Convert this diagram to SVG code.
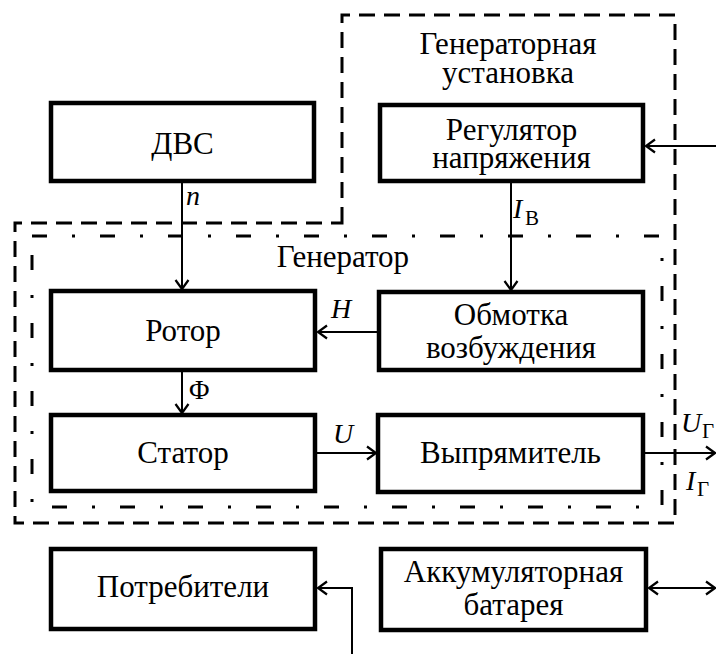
<svg xmlns="http://www.w3.org/2000/svg" width="716" height="654" viewBox="0 0 716 654">
<style>
.box{fill:#fff;stroke:#000;stroke-width:4.5}
text{font-family:'Liberation Serif','Times New Roman',serif;fill:#000}
.t{font-size:31px;text-anchor:middle}
.lbl{font-size:28px}
.it{font-style:italic}
.sub{font-size:21px}
.c{fill:none;stroke:#000;stroke-width:2}
.dash{fill:none;stroke:#000;stroke-width:3;stroke-dasharray:16 9}
.dd{fill:none;stroke:#000;stroke-width:3;stroke-dasharray:15 25 3 25}
</style>
<defs>
<marker id="ah" markerUnits="userSpaceOnUse" markerWidth="14" markerHeight="16" refX="11" refY="8" orient="auto-start-reverse">
<path d="M2,1.5 L11,8 L2,14.5" fill="none" stroke="#000" stroke-width="2.2"/>
</marker>
</defs>
<rect width="716" height="654" fill="#fff"/>
<g id="boundary-installation">
<path class="dash" d="M342,223 L342,15 L675,15 L675,523 L15,523 L15,223 Z"/>
<text class="t" x="508" y="54">Генераторная</text>
<text class="t" x="508" y="83">установка</text>
</g>
<g id="boundary-generator">
<rect class="dd" x="32" y="236" width="630" height="271"/>
<text class="t" x="343" y="267">Генератор</text>
</g>
<g id="connectors">
<line class="c" x1="182" y1="183" x2="182" y2="289" marker-end="url(#ah)"/>
<line class="c" x1="511" y1="183" x2="511" y2="290" marker-end="url(#ah)"/>
<line class="c" x1="716" y1="146" x2="646" y2="146" marker-end="url(#ah)"/>
<line class="c" x1="377" y1="332" x2="318" y2="332" marker-end="url(#ah)"/>
<line class="c" x1="182" y1="372" x2="182" y2="413" marker-end="url(#ah)"/>
<line class="c" x1="317" y1="453" x2="376" y2="453" marker-end="url(#ah)"/>
<line class="c" x1="645" y1="453" x2="715" y2="453" marker-end="url(#ah)"/>
<polyline class="c" points="352,654 352,588 318,588" marker-end="url(#ah)"/>
<line class="c" x1="649" y1="588" x2="715" y2="588" marker-start="url(#ah)" marker-end="url(#ah)"/>
<text class="lbl it" x="186" y="205">n</text>
<text class="lbl it" x="513" y="218">I</text><text class="lbl sub" x="525" y="225">В</text>
<text class="lbl it" x="331" y="318">H</text>
<text class="lbl" x="189" y="399">Φ</text>
<text class="lbl it" x="333" y="443">U</text>
<text class="lbl it" x="681" y="432">U</text><text class="lbl sub" x="702" y="438">Г</text>
<text class="lbl it" x="686" y="490">I</text><text class="lbl sub" x="697" y="496">Г</text>
</g>
<g id="dvs"><rect class="box" x="51" y="103" width="263" height="78"/><text class="t" x="182.5" y="154">ДВС</text></g>
<g id="regulator"><rect class="box" x="380" y="105" width="263" height="76"/><text class="t" x="511.5" y="140">Регулятор</text><text class="t" x="511.5" y="168">напряжения</text></g>
<g id="rotor"><rect class="box" x="51" y="291" width="264" height="79"/><text class="t" x="183" y="341">Ротор</text></g>
<g id="winding"><rect class="box" x="379" y="292" width="264" height="78"/><text class="t" x="511" y="325">Обмотка</text><text class="t" x="511" y="358">возбуждения</text></g>
<g id="stator"><rect class="box" x="51" y="415" width="264" height="76"/><text class="t" x="183" y="463">Статор</text></g>
<g id="rectifier"><rect class="box" x="378" y="415" width="265" height="77"/><text class="t" x="510.5" y="463">Выпрямитель</text></g>
<g id="consumers"><rect class="box" x="51" y="549" width="264" height="80"/><text class="t" x="183" y="597">Потребители</text></g>
<g id="battery"><rect class="box" x="381" y="549" width="265" height="81"/><text class="t" x="513.5" y="582">Аккумуляторная</text><text class="t" x="513.5" y="615">батарея</text></g>
</svg>
